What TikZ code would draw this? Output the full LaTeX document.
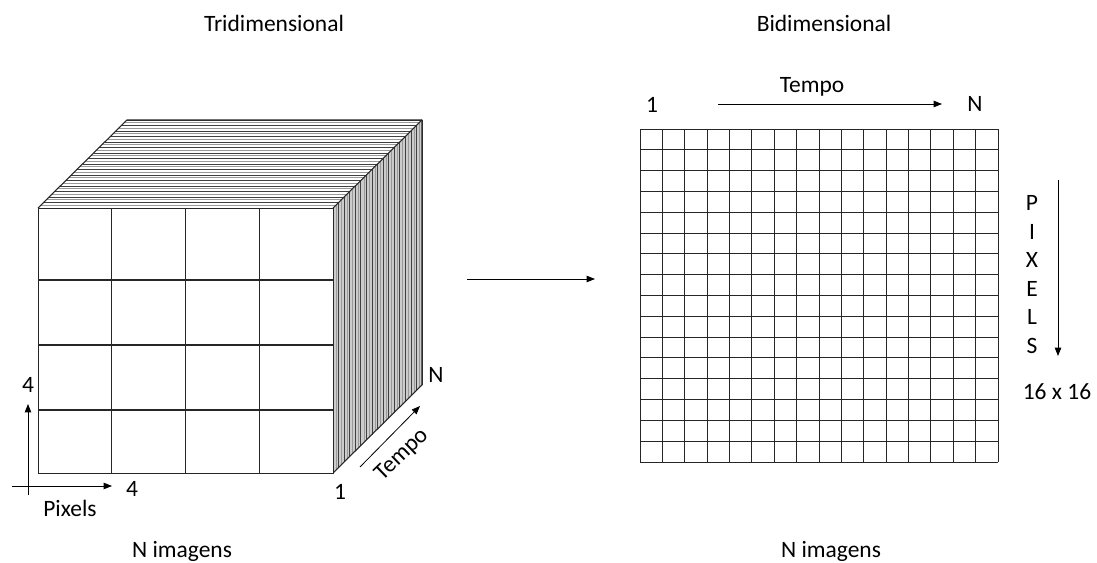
\documentclass[tikz,border=0pt]{standalone}
\usepackage{fontspec}
\setmainfont{Carlito}
\usetikzlibrary{arrows.meta,positioning,calc}
\tikzset{
  lbl/.style={font=\fontsize{17.6}{20}\selectfont, inner sep=0pt},
  flow/.style={-{Triangle[length=2.2mm,width=1.7mm]}, line width=0.6pt},
  cell/.style={line width=0.8pt, black!85},
  sheet/.style={line width=0.5pt, black!75},
  sheetlo/.style={line width=0.5pt, black!40},
  edge3d/.style={line width=0.8pt, black!85, line join=round}
}
\newcommand{\dd}{0.0625}% one slice of the depth

\begin{document}
\begin{tikzpicture}[x=0.75pt, y=-0.75pt]
  \useasboundingbox (0,0) rectangle (1097,563);

  % titles
  \node[lbl] (t3d) at (274,23) {Tridimensional};
  \node[lbl] (t2d) at (824,23) {Bidimensional};
  \node[lbl] (n3d) at (182,551) {N imagens};
  \node[lbl] (n2d) at (831,551) {N imagens};

  % cube faces
  \fill[white] (38,208) -- (127,120) -- (422,120) -- (333,208) -- cycle;
  \fill[black!20] (333,208) -- (422,120) -- (422,385) -- (333,473) -- cycle;
  % the N slices
  \foreach \i in {1,...,16} {
    \draw[sheetlo] ({38+89*(\i-0.45)*\dd},{208-88*(\i-0.45)*\dd})
      -- ({333+89*(\i-0.45)*\dd},{208-88*(\i-0.45)*\dd})
      -- ({333+89*(\i-0.45)*\dd},{473-88*(\i-0.45)*\dd});
    \draw[sheet] ({38+89*\i*\dd},{208-88*\i*\dd})
      -- ({333+89*\i*\dd},{208-88*\i*\dd})
      -- ({333+89*\i*\dd},{473-88*\i*\dd});
  }
  \draw[edge3d] (38,208) -- (127,120) -- (422,120) -- (422,385) -- (333,473);
  \draw[edge3d] (333,208) -- (422,120);

  % front image 4 x 4
  \node[draw=black!85, line width=0.8pt, fill=white, inner sep=0pt,
    minimum width=221.25pt, minimum height=198.75pt, anchor=north west] (front) at (38,208) {};
  \foreach \x in {111.75,185.5,259.25}
    \draw[cell] (\x,208) -- (\x,473);
  \foreach \y in {280,345,410}
    \draw[cell] (38,\y) -- (333,\y);

  % cube axes
  \node[lbl] (h4) at (28,385) {4};
  \node[lbl] (w4) at (132,489) {4};
  \node[lbl] (pix) at (70,508) {Pixels};
  \node[lbl] (one3d) at (340,492) {1};
  \node[lbl] (nn3d) at (436,375) {N};
  \coordinate (v0) at (28,495);
  \coordinate (v1) at (28,404);
  \coordinate (u0) at (12,486);
  \coordinate (u1) at (112,486);
  \draw[flow] (v0) -- (v1);
  \draw[flow] (u0) -- (u1);
  \coordinate (d0) at (360,467);
  \coordinate (d1) at (420,406);
  \draw[flow] (d0) -- (d1);
  \node[lbl, rotate=44] (tp3d) at (402,455) {Tempo};

  % reshaping
  \coordinate (m0) at (467,279);
  \coordinate (m1) at (595,279);
  \draw[flow] (m0) -- (m1);

  % image 16 x 16
  \foreach \i in {0,...,16} {
    \draw[cell, line width=0.7pt] ({640+358*\i*\dd},129) -- ({640+358*\i*\dd},462);
    \draw[cell, line width=0.7pt] (640,{129+333*\i*\dd}) -- (998,{129+333*\i*\dd});
  }
  \node[lbl] (one2d) at (652,105) {1};
  \node[lbl] (nn2d) at (975,104) {N};
  \node[lbl] (tp2d) at (812,87) {Tempo};
  \coordinate (r0) at (718,104);
  \coordinate (r1) at (942,104);
  \draw[flow] (r0) -- (r1);
  \foreach \c [count=\k] in {P,I,X,E,L,S}
    \node[lbl] (px\k) at (1032,{203+28.5*(\k-1)}) {\c};
  \coordinate (s0) at (1058,180);
  \coordinate (s1) at (1058,356);
  \draw[flow] (s0) -- (s1);
  \node[lbl] (size) at (1057,392) {16 x 16};
\end{tikzpicture}
\end{document}
